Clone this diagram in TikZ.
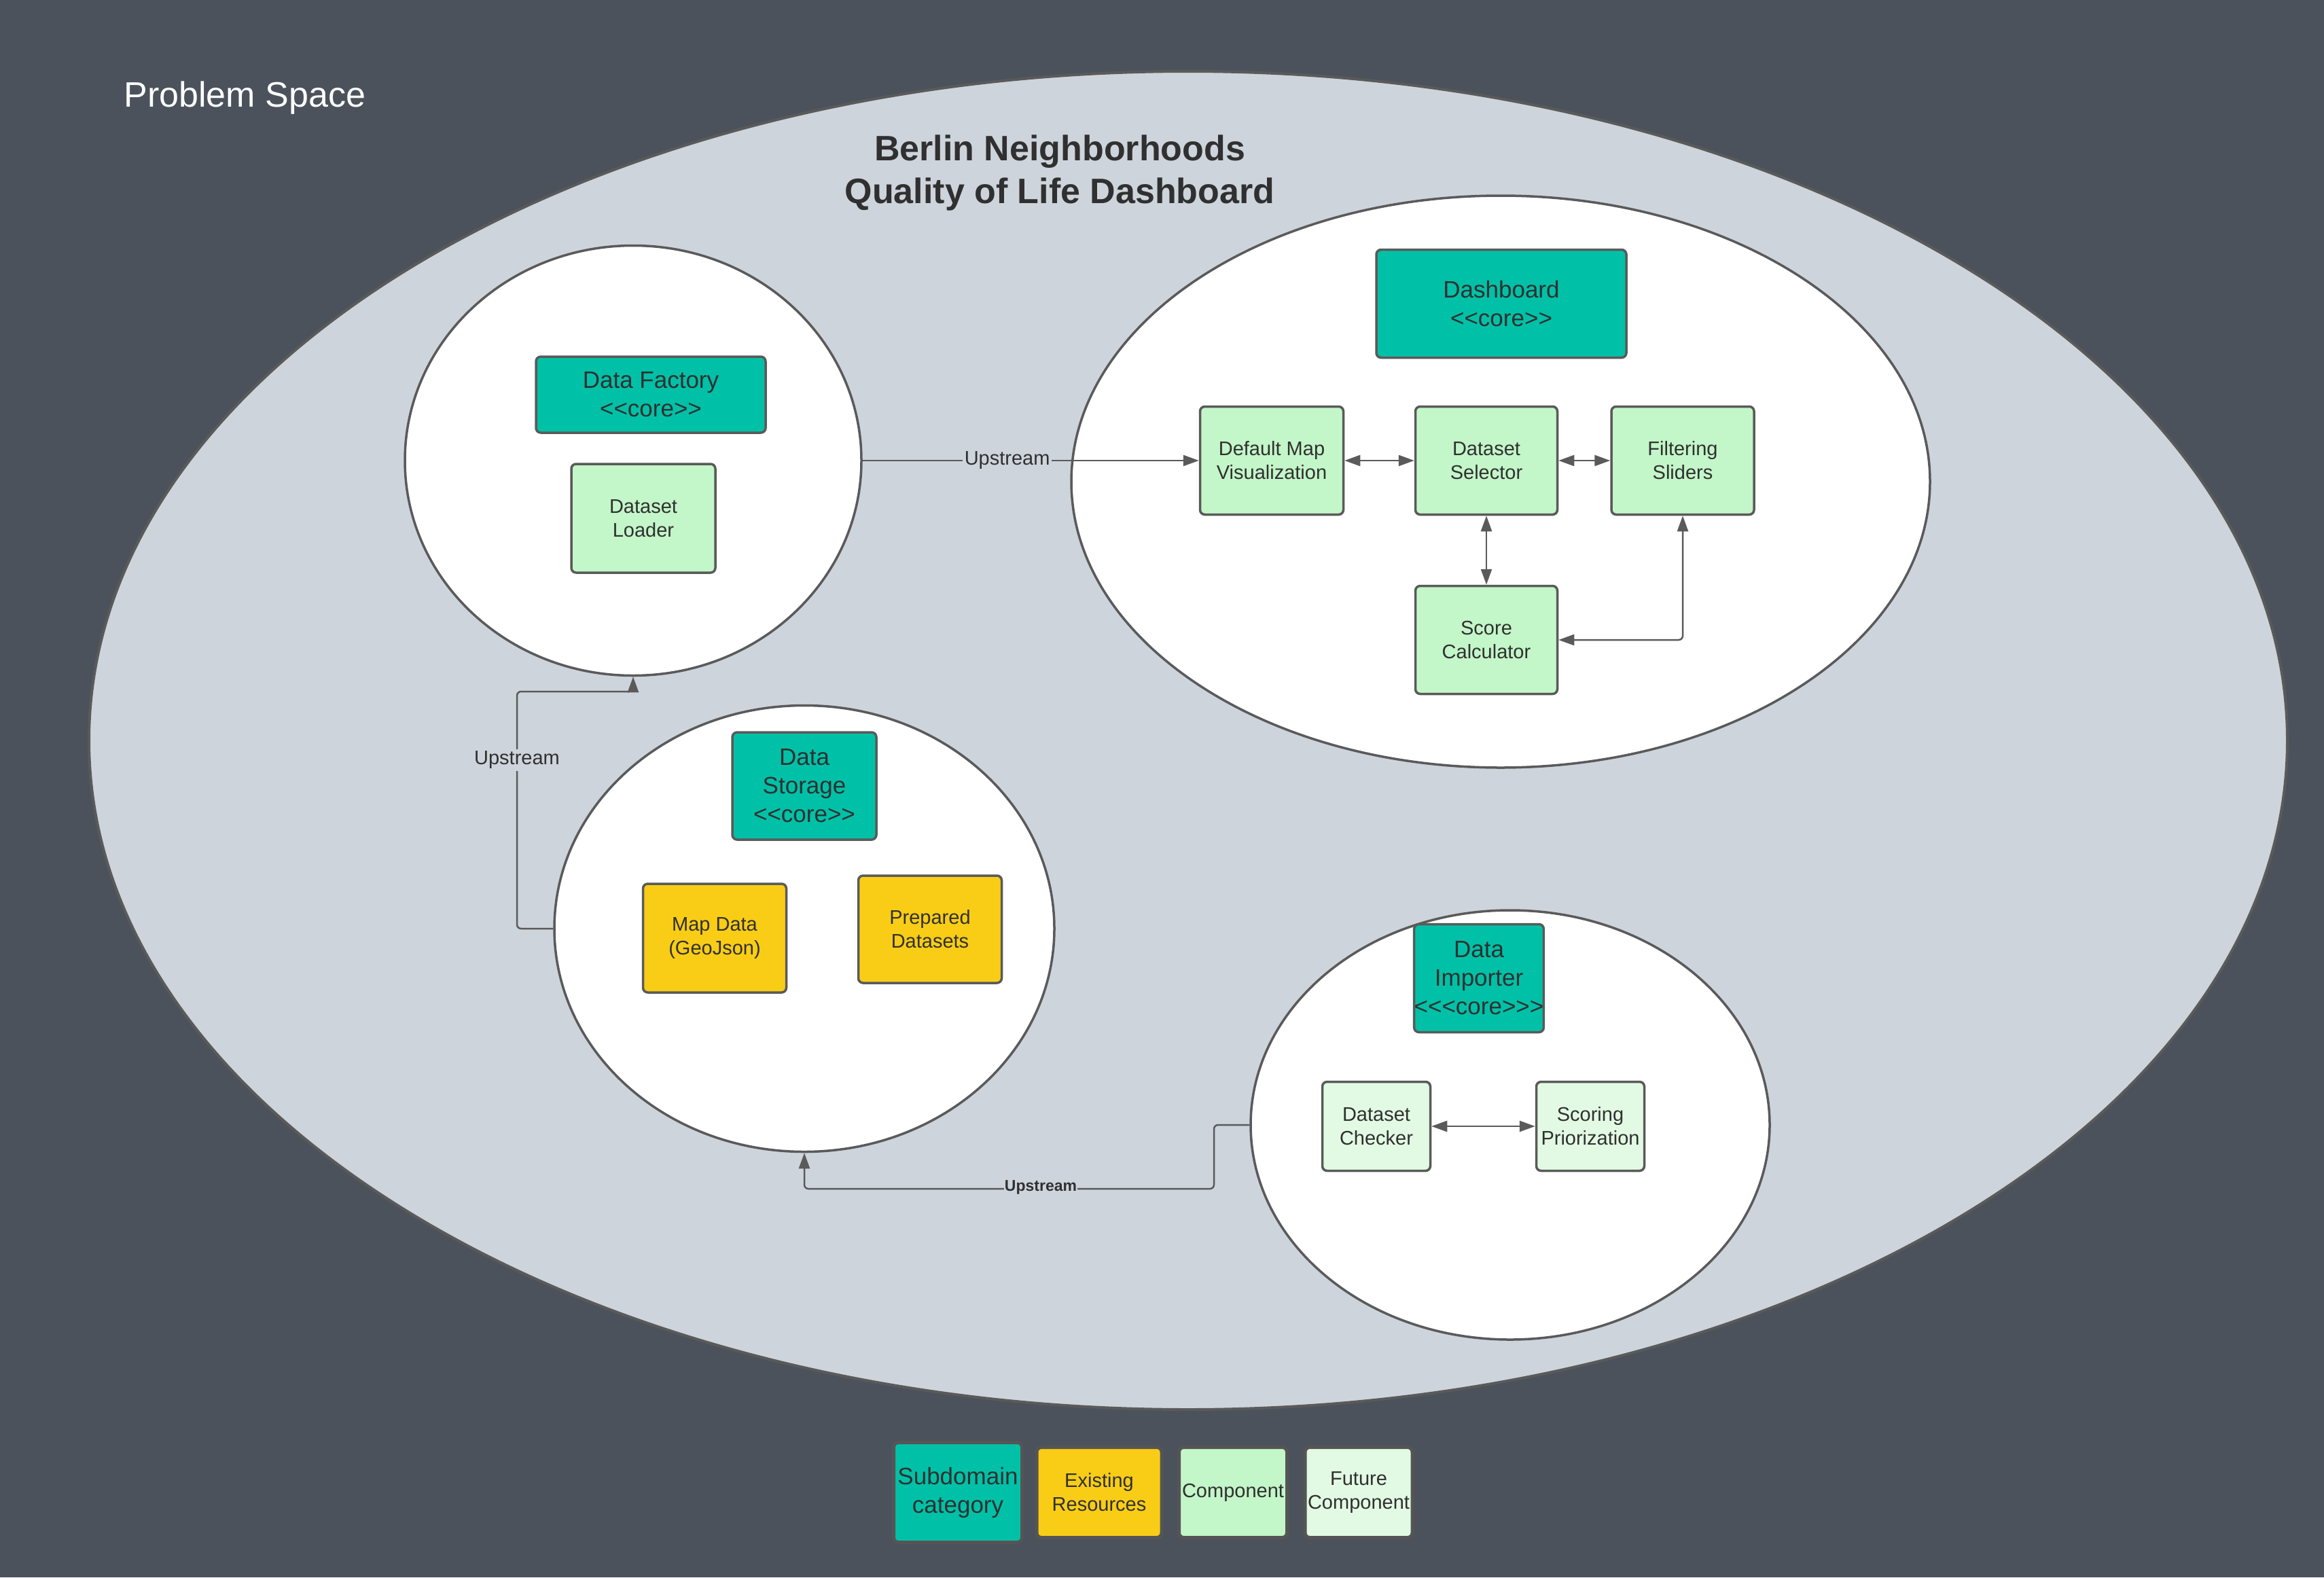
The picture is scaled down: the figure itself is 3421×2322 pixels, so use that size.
\documentclass[tikz,border=0pt]{standalone}
\usepackage{fontspec}
\setmainfont{Liberation Sans}[Ligatures=TeXOff]
\usetikzlibrary{shapes.geometric,arrows.meta}

\definecolor{bgdark}{HTML}{4B525B}
\definecolor{spacefill}{HTML}{CED4DC}
\definecolor{linegray}{HTML}{5A5A5A}
\definecolor{coreteal}{HTML}{00C1A7}
\definecolor{compgreen}{HTML}{C3F6C8}
\definecolor{futuregreen}{HTML}{E2FAE3}
\definecolor{resyellow}{HTML}{F9CD16}
\definecolor{textdark}{HTML}{303030}
\definecolor{legendedge}{HTML}{555555}

\begin{document}
\begin{tikzpicture}[x=1pt,y=-1pt,
  every node/.style={text=textdark},
  region/.style={ellipse, draw=linegray, line width=3.5pt, fill=white, inner sep=0pt},
  box/.style={rectangle, rounded corners=7pt, draw=linegray, line width=3.5pt,
    inner xsep=0pt, inner ysep=0pt, align=center},
  corebox/.style={box, fill=coreteal, font=\fontsize{35}{42}\selectfont},
  compbox/.style={box, fill=compgreen, font=\fontsize{29}{35}\selectfont},
  futurebox/.style={box, fill=futuregreen, font=\fontsize{29}{35}\selectfont},
  resbox/.style={box, fill=resyellow, font=\fontsize{29}{35}\selectfont},
  legendbox/.style={box, draw=legendedge, line width=5pt},
  tip/.tip={Triangle[length=23pt,width=16pt]},
  link/.style={draw=linegray, line width=2.5pt, -tip},
  dlink/.style={draw=linegray, line width=2.5pt, tip-tip},
  tag/.style={fill=spacefill, inner sep=3pt, font=\fontsize{29}{35}\selectfont}
]
% page and background
\useasboundingbox (0,0) rectangle (3421,2322);
\fill[bgdark] (0,0) rectangle (3421,2322);

% problem space
\node[ellipse, draw=linegray, line width=4pt, fill=spacefill, inner sep=0pt,
  minimum width=3236pt, minimum height=1970pt] (space) at (1749,1090) {};
\node[anchor=west, text=white, font=\fontsize{52}{62}\selectfont] (pslabel) at (179,144) {Problem Space};
\node[align=center, font=\bfseries\fontsize{52}{63}\selectfont] (title) at (1560,255)
  {Berlin Neighborhoods\\Quality of Life Dashboard};

% subdomain regions
\node[region, minimum width=672pt, minimum height=633pt] (df) at (932,678) {};
\node[region, minimum width=1264pt, minimum height=842pt] (dash) at (2209,709) {};
\node[region, minimum width=736pt, minimum height=657pt] (ds) at (1184,1367) {};
\node[region, minimum width=764pt, minimum height=632pt] (di) at (2223,1656) {};

% data factory
\node[corebox, minimum width=338pt, minimum height=112pt] (dfcore) at (958,581) {Data Factory\\<<core>>};
\node[compbox, minimum width=212pt, minimum height=160pt] (dl) at (947,763) {Dataset\\Loader};

% dashboard
\node[corebox, minimum width=368pt, minimum height=159pt] (dashcore) at (2210,447) {Dashboard\\<<core>>};
\node[compbox, minimum width=211pt, minimum height=159pt] (dmv) at (1872,678) {Default Map\\Visualization};
\node[compbox, minimum width=209pt, minimum height=159pt] (dsel) at (2188,678) {Dataset\\Selector};
\node[compbox, minimum width=210pt, minimum height=159pt] (fs) at (2477,678) {Filtering\\Sliders};
\node[compbox, minimum width=209pt, minimum height=159pt] (sc) at (2188,942) {Score\\Calculator};

% data storage
\node[corebox, minimum width=212pt, minimum height=158pt] (dscore) at (1184,1157) {Data\\Storage\\<<core>>};
\node[resbox, minimum width=211pt, minimum height=160pt] (md) at (1052,1381) {Map Data\\(GeoJson)};
\node[resbox, minimum width=211pt, minimum height=158pt] (pd) at (1369,1368) {Prepared\\Datasets};

% data importer
\node[corebox, minimum width=190pt, minimum height=159pt] (dicore) at (2177,1440) {Data\\Importer\\<<<core>>>};
\node[futurebox, minimum width=159pt, minimum height=131pt] (dc) at (2026,1658) {Dataset\\Checker};
\node[futurebox, minimum width=159pt, minimum height=131pt] (sp) at (2341,1658) {Scoring\\Priorization};

% connectors inside the dashboard
\draw[dlink] (dmv.east) -- (dsel.west);
\draw[dlink] (dsel.east) -- (fs.west);
\draw[dlink] (dsel.south) -- (sc.north);
\draw[dlink, rounded corners=6pt] (fs.south) |- (sc.east);

% connector inside the importer
\draw[dlink] (dc.east) -- (sp.west);

% upstream relations between subdomains
\draw[link] (df.east) -- node[tag, pos=0.43] {Upstream} (dmv.west);
\draw[link, rounded corners=6pt] (ds.west) -| (761,1018) -| (df.south);
\node[tag] (upds) at (761,1119) {Upstream};
\draw[link, rounded corners=6pt] (di.west) -| (1787,1750) -| (ds.south);
\node[tag, font=\bfseries\fontsize{23}{28}\selectfont, inner sep=1pt] (updi) at (1532,1748) {Upstream};

% legend
\node[legendbox, fill=coreteal, minimum width=189pt, minimum height=147pt,
  font=\fontsize{35}{42}\selectfont] (leg1) at (1410,2197) {Subdomain\\category};
\node[legendbox, fill=resyellow, minimum width=184pt, minimum height=133pt,
  font=\fontsize{29}{35}\selectfont] (leg2) at (1618,2197) {Existing\\Resources};
\node[legendbox, fill=compgreen, minimum width=159pt, minimum height=133pt,
  font=\fontsize{29}{35}\selectfont] (leg3) at (1815,2197) {Component};
\node[legendbox, fill=futuregreen, minimum width=158pt, minimum height=133pt,
  font=\fontsize{29}{35}\selectfont] (leg4) at (2000,2197) {Future\\Component};
\end{tikzpicture}
\end{document}
